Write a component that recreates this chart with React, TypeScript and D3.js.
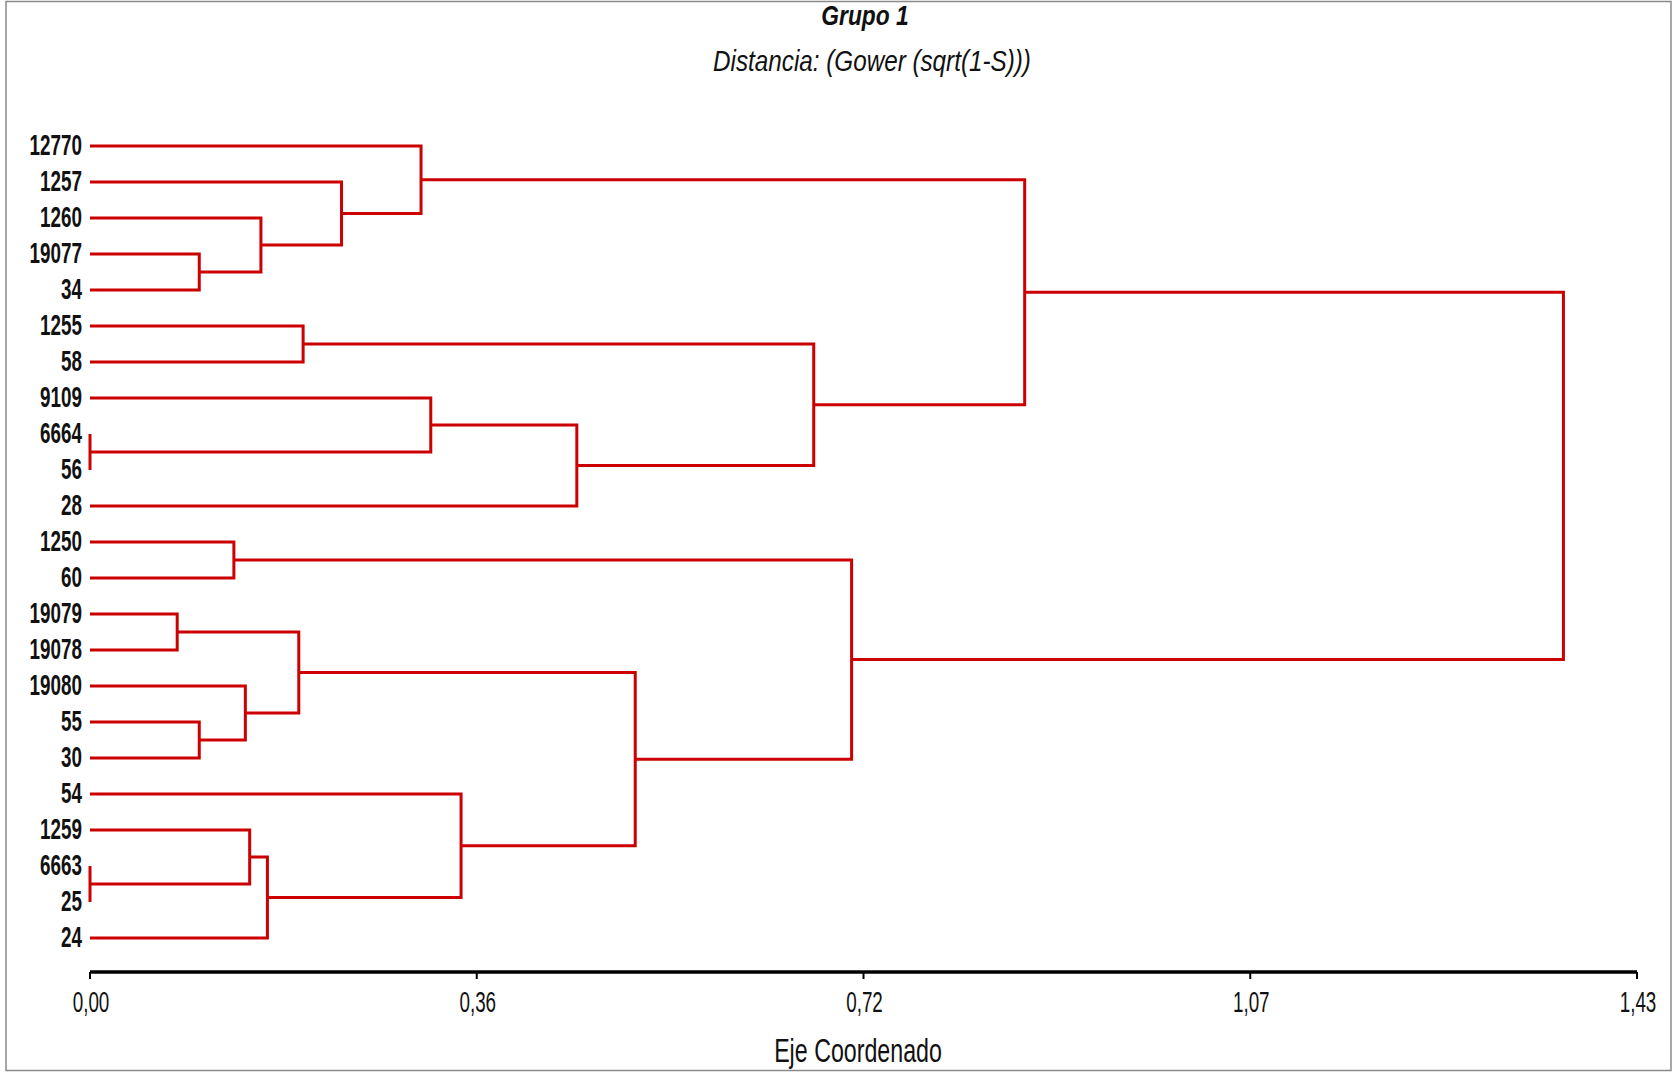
import React, { useRef, useEffect } from 'react';
import * as d3 from 'd3';

// leaf order, top to bottom
const leaves = [
  '12770', '1257', '1260', '19077', '34', '1255', '58', '9109', '6664', '56', '28',
  '1250', '60', '19079', '19078', '19080', '55', '30', '54', '1259', '6663', '25', '24',
];

// merges: node mK joins mergeLeft[K] and mergeRight[K] at distance mergeDist[K]
const mergeLeft = [
  '19077', '1260', '1257', '12770', '1255', '6664', '9109', 'm6', 'm4', 'm3',
  '1250', '19079', '55', '19080', 'm11', '6663', '1259', 'm16', '54', 'm14', 'm10', 'm9',
];
const mergeRight = [
  '34', 'm0', 'm1', 'm2', '58', '56', 'm5', '28', 'm7', 'm8',
  '60', '19078', '30', 'm12', 'm13', '25', 'm15', '24', 'm17', 'm18', 'm19', 'm20',
];
const mergeDist = [
  0.101, 0.158, 0.2325, 0.306, 0.197, 0.0, 0.315, 0.45, 0.669, 0.864,
  0.133, 0.0806, 0.101, 0.1436, 0.193, 0.0, 0.1476, 0.164, 0.343, 0.504, 0.704, 1.362,
];

const axisMax = 1.43;
const tickValues = [0, 0.3575, 0.715, 1.0725, 1.43];
const tickLabels = ['0,00', '0,36', '0,72', '1,07', '1,43'];

const W = 1673;
const H = 1073;
const RED = '#cc0000';
const SANS = '"Liberation Sans", Arial, sans-serif';

const App = () => {
  const svgRef = useRef(null);

  useEffect(() => {
    const svg = d3.select(svgRef.current);
    svg.selectAll('*').remove();

    const x = d3.scaleLinear().domain([0, axisMax]).range([90, 1637]);
    const y = d3.scalePoint().domain(leaves).range([146, 938]);

    // frame
    svg.append('rect')
      .attr('x', 6).attr('y', 1.5)
      .attr('width', 1665).attr('height', 1069)
      .attr('fill', 'white')
      .attr('stroke', '#8a8a8a')
      .attr('stroke-width', 1.5);

    // text is squeezed horizontally and stretched vertically, like the source
    const addText = (tx, ty, txt, opts) => {
      svg.append('g')
        .attr('transform', `translate(${tx},${ty}) scale(${opts.sx || 1},${opts.sy || 1})`)
        .append('text')
        .attr('text-anchor', opts.anchor || 'middle')
        .attr('font-family', SANS)
        .attr('font-size', opts.size)
        .attr('font-weight', opts.weight || 'normal')
        .attr('font-style', opts.style || 'normal')
        .attr('fill', '#111')
        .text(txt);
    };

    // titles
    addText(865, 25, 'Grupo 1', { size: 24, weight: 'bold', style: 'italic', sx: 0.95, sy: 1.12 });
    addText(872, 71, 'Distancia: (Gower (sqrt(1-S)))', { size: 25, style: 'italic', sx: 0.97, sy: 1.15 });

    // dendrogram
    const pos = {};
    leaves.forEach(l => { pos[l] = { x: x(0), y: y(l) }; });
    const g = svg.append('g')
      .attr('fill', 'none')
      .attr('stroke', RED)
      .attr('stroke-width', 3)
      .attr('stroke-linejoin', 'miter');

    mergeDist.forEach((d, i) => {
      const a = pos[mergeLeft[i]];
      const b = pos[mergeRight[i]];
      const xm = x(d);
      const path = d3.path();
      path.moveTo(a.x, a.y);
      path.lineTo(xm, a.y);
      path.lineTo(xm, b.y);
      path.lineTo(b.x, b.y);
      g.append('path').attr('d', path.toString());
      pos['m' + i] = { x: xm, y: (a.y + b.y) / 2 };
    });

    // leaf labels
    leaves.forEach(l => {
      addText(82, y(l) + 8.5, l, { size: 23, weight: 'bold', anchor: 'end', sx: 0.82, sy: 1.25 });
    });

    // x axis
    const axisY = 972;
    svg.append('line')
      .attr('x1', x(0)).attr('x2', x(axisMax))
      .attr('y1', axisY).attr('y2', axisY)
      .attr('stroke', '#000').attr('stroke-width', 3.4);
    tickValues.forEach((t, i) => {
      svg.append('line')
        .attr('x1', x(t)).attr('x2', x(t))
        .attr('y1', axisY).attr('y2', axisY + 7)
        .attr('stroke', '#000').attr('stroke-width', 2);
      addText(x(t) + 1, 1012, tickLabels[i], { size: 23, sx: 0.82, sy: 1.25 });
    });

    addText(858, 1062, 'Eje Coordenado', { size: 27, sx: 0.86, sy: 1.25 });
  }, []);

  return (
    <svg
      ref={svgRef}
      width={W}
      height={H}
      style={{ position: 'absolute', left: 0, top: 0, background: 'white' }}
    />
  );
};

export default App;
